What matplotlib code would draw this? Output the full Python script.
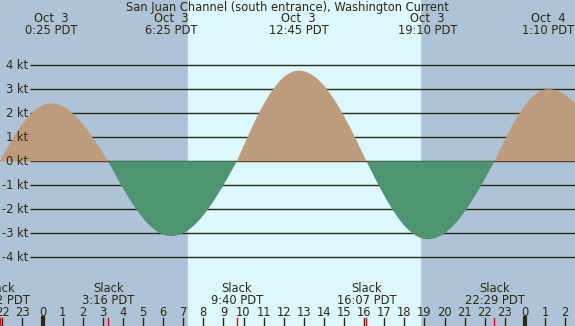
import numpy as np
import matplotlib
matplotlib.use('Agg')
import matplotlib.pyplot as plt

# current events: hours from midnight Oct 3 (PDT), speed in knots
event_hours = [-5.2, -2.133, 0.417, 3.267, 6.417, 9.667, 12.75, 16.117, 19.167, 22.483, 25.167, 28.4]
event_kt = [-2.9, 0.0, 2.41, 0.0, -3.11, 0.0, 3.77, 0.0, -3.24, 0.0, 3.0, 0.0]

# labels along the top (max flood / max ebb)
top_hours = [0.417, 6.417, 12.75, 19.167, 25.167]
top_dates = ['Oct  3', 'Oct  3', 'Oct  3', 'Oct  3', 'Oct  4']
top_times = ['0:25 PDT', '6:25 PDT', '12:45 PDT', '19:10 PDT', '1:10 PDT']

# slack labels along the bottom
slack_hours = [-2.133, 3.267, 9.667, 16.117, 22.483]
slack_times = ['21:52 PDT', '3:16 PDT', '9:40 PDT', '16:07 PDT', '22:29 PDT']

sunrise = 7.25
sunset = 18.78
hour_ticks = list(range(-2, 27))
kt_levels = [4, 3, 2, 1, 0, -1, -2, -3, -4]

W, H = 575, 326
x_lo, x_hi = -2.115, 26.49
y_lo, y_hi = -6.85, 6.71
fs = 8.3

night_col = '#aec3d8'
day_col = '#ddf7fe'
flood_col = '#bd9b7b'
ebb_col = '#4f9470'
ink = '#2a2a0e'

# curve between events: quarter sine from slack to max, quarter cosine back
t = np.linspace(x_lo, x_hi, 1500)
v = np.zeros_like(t)
for i in range(len(event_hours) - 1):
    t0, t1 = event_hours[i], event_hours[i + 1]
    m = (t >= t0) & (t <= t1)
    s = (t[m] - t0) / (t1 - t0)
    if event_kt[i] == 0:
        v[m] = event_kt[i + 1] * np.sin(np.pi / 2 * s)
    else:
        v[m] = event_kt[i] * np.cos(np.pi / 2 * s)

fig = plt.figure(figsize=(W / 100, H / 100), dpi=100)
ax = fig.add_axes([0, 0, 1, 1])
ax.set_xlim(x_lo, x_hi)
ax.set_ylim(y_lo, y_hi)
ax.axis('off')

ax.axvspan(x_lo, x_hi, color=night_col, zorder=0)
ax.axvspan(sunrise, sunset, color=day_col, zorder=0)

def fy(py):
    return 1 - py / H

# grid lines and y labels
ax.hlines(kt_levels, x_lo + (x_hi - x_lo) * 30 / W, x_hi, colors=ink, lw=1.0, zorder=1)
for k in kt_levels:
    ax.text(x_lo + (x_hi - x_lo) * 28 / W, k, f'{k} kt', ha='right', va='center',
            fontsize=fs, color=ink, zorder=3)

ax.fill_between(t, 0, v, where=v >= 0, color=flood_col, lw=0, zorder=2, interpolate=True)
ax.fill_between(t, 0, v, where=v <= 0, color=ebb_col, lw=0, zorder=2, interpolate=True)

tr = ax.get_xaxis_transform()
ax.text(0.5, fy(7), 'San Juan Channel (south entrance), Washington Current',
        transform=ax.transAxes, ha='center', va='center', fontsize=fs, color=ink)
for h, d, s in zip(top_hours, top_dates, top_times):
    ax.text(h, fy(19), d, transform=tr, ha='center', va='center', fontsize=fs, color=ink)
    ax.text(h, fy(31), s, transform=tr, ha='center', va='center', fontsize=fs, color=ink)

for h, s in zip(slack_hours, slack_times):
    ax.text(h, fy(288), 'Slack', transform=tr, ha='center', va='center', fontsize=fs, color=ink)
    ax.text(h, fy(300), s, transform=tr, ha='center', va='center', fontsize=fs, color=ink)
    ax.plot([h, h], [fy(318), 0], transform=tr, color='red', lw=1.0, zorder=4)

for h in hour_ticks:
    ax.text(h, fy(312), str(h % 24), transform=tr, ha='center', va='center',
            fontsize=fs, color=ink)
    lw = 3.0 if h % 24 == 0 else 1.0
    ax.plot([h, h], [fy(318), 0], transform=tr, color=ink, lw=lw, zorder=3)

fig.savefig('out.png', dpi=100)
